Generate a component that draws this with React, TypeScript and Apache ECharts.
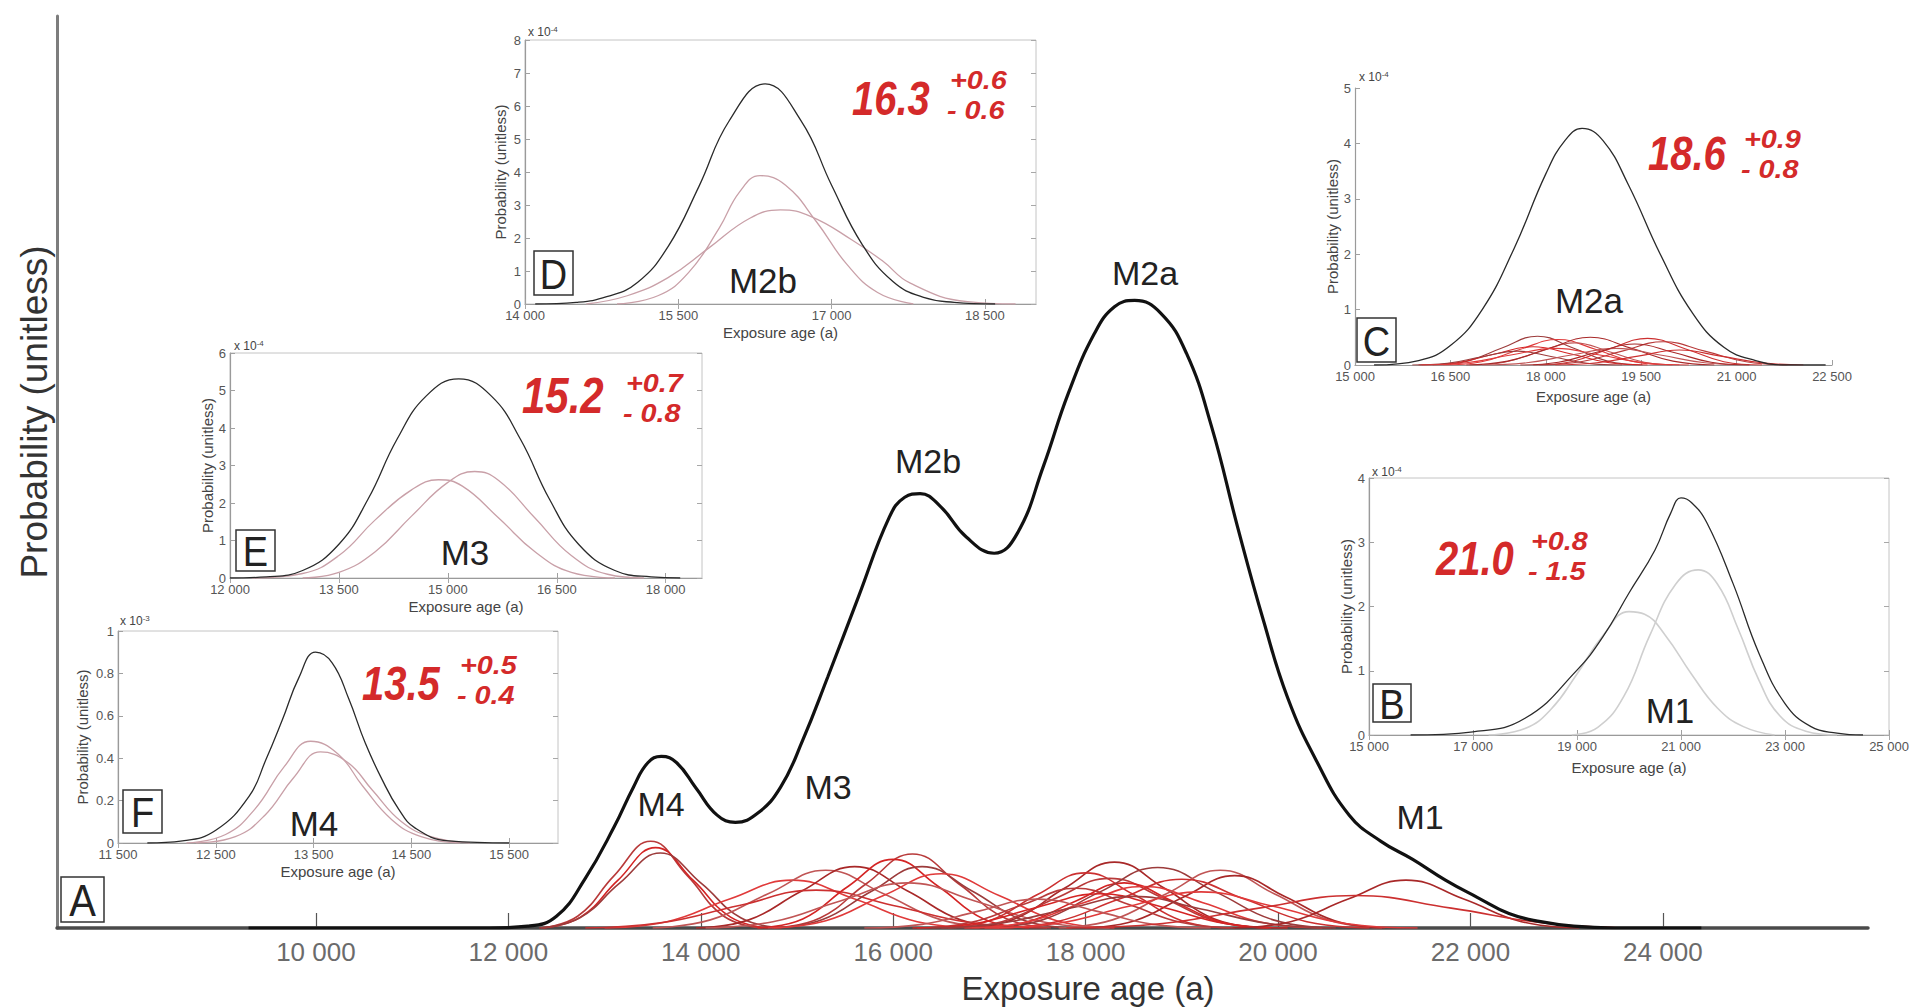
import React, { useEffect, useRef } from "react";
import * as echarts from "echarts";

const FONT = "Liberation Sans, Arial, Helvetica, sans-serif";

// ---------- Main panel (A) ----------
const MAIN_X_TICKS = [10000, 12000, 14000, 16000, 18000, 20000, 22000, 24000];
const MAIN_SUM = [
  [9300, 0], [11800, 0], [12200, 0.002], [12500, 0.013], [12800, 0.055], [13100, 0.112], [13300, 0.156],
  [13450, 0.183], [13590, 0.19], [13750, 0.183], [13950, 0.155], [14170, 0.125], [14360, 0.117],
  [14590, 0.127], [14830, 0.156], [15060, 0.208], [15320, 0.278], [15640, 0.367], [15960, 0.455],
  [16120, 0.477], [16280, 0.481], [16490, 0.467], [16760, 0.433], [17050, 0.415], [17290, 0.437],
  [17560, 0.511], [17820, 0.592], [18090, 0.658], [18300, 0.688], [18510, 0.695], [18780, 0.681],
  [19050, 0.636], [19310, 0.555], [19580, 0.444], [19850, 0.34], [20100, 0.255], [20400, 0.185],
  [20740, 0.125], [21070, 0.096], [21400, 0.076], [21740, 0.053], [22070, 0.034], [22400, 0.016],
  [22730, 0.007], [23070, 0.002], [23500, 0], [24400, 0],
];
const MAIN_AGES = [
  [[12340, 0], [12720, 0.013], [13100, 0.058], [13480, 0.096], [13860, 0.058], [14240, 0.013], [14620, 0]],
  [[12360, 0], [12750, 0.012], [13140, 0.053], [13530, 0.089], [13920, 0.053], [14310, 0.012], [14700, 0]],
  [[12320, 0], [12740, 0.011], [13160, 0.05], [13580, 0.083], [14000, 0.05], [14420, 0.011], [14840, 0]],
  [[13000, 0], [13650, 0.007], [14300, 0.032], [14950, 0.053], [15600, 0.032], [16250, 0.007], [16900, 0]],
  [[13500, 0], [14100, 0.009], [14700, 0.038], [15300, 0.064], [15900, 0.038], [16500, 0.009], [17100, 0]],
  [[13950, 0], [14500, 0.009], [15050, 0.041], [15600, 0.068], [16150, 0.041], [16700, 0.009], [17250, 0]],
  [[12800, 0], [13600, 0.006], [14400, 0.025], [15200, 0.042], [16000, 0.025], [16800, 0.006], [17600, 0]],
  [[14760, 0], [15240, 0.011], [15720, 0.049], [16200, 0.082], [16680, 0.049], [17160, 0.011], [17640, 0]],
  [[14590, 0], [15060, 0.01], [15530, 0.046], [16000, 0.076], [16470, 0.046], [16940, 0.01], [17410, 0]],
  [[14740, 0], [15260, 0.009], [15780, 0.041], [16300, 0.068], [16820, 0.041], [17340, 0.009], [17860, 0]],
  [[14700, 0], [15300, 0.008], [15900, 0.036], [16500, 0.06], [17100, 0.036], [17700, 0.008], [18300, 0]],
  [[14050, 0], [14750, 0.007], [15450, 0.03], [16150, 0.05], [16850, 0.03], [17550, 0.007], [18250, 0]],
  [[16740, 0], [17260, 0.01], [17780, 0.044], [18300, 0.073], [18820, 0.044], [19340, 0.01], [19860, 0]],
  [[16500, 0], [17000, 0.008], [17500, 0.037], [18000, 0.061], [18500, 0.037], [19000, 0.008], [19500, 0]],
  [[16570, 0], [17130, 0.007], [17690, 0.033], [18250, 0.055], [18810, 0.033], [19370, 0.007], [19930, 0]],
  [[16900, 0], [17400, 0.007], [17900, 0.03], [18400, 0.05], [18900, 0.03], [19400, 0.007], [19900, 0]],
  [[16950, 0], [17550, 0.009], [18150, 0.04], [18750, 0.067], [19350, 0.04], [19950, 0.009], [20550, 0]],
  [[16740, 0], [17360, 0.006], [17980, 0.028], [18600, 0.046], [19220, 0.028], [19840, 0.006], [20460, 0]],
  [[17720, 0], [18280, 0.009], [18840, 0.038], [19400, 0.064], [19960, 0.038], [20520, 0.009], [21080, 0]],
  [[17990, 0], [18510, 0.008], [19030, 0.035], [19550, 0.058], [20070, 0.035], [20590, 0.008], [21110, 0]],
  [[17050, 0], [17700, 0.007], [18350, 0.032], [19000, 0.054], [19650, 0.032], [20300, 0.007], [20950, 0]],
  [[16250, 0], [16800, 0.006], [17350, 0.026], [17900, 0.044], [18450, 0.026], [19000, 0.006], [19550, 0]],
  [[16200, 0], [16850, 0.005], [17500, 0.023], [18150, 0.038], [18800, 0.023], [19450, 0.005], [20100, 0]],
  [[16400, 0], [17100, 0.005], [17800, 0.021], [18500, 0.035], [19200, 0.021], [19900, 0.005], [20600, 0]],
  [[16950, 0], [17700, 0.005], [18450, 0.024], [19200, 0.04], [19950, 0.024], [20700, 0.005], [21450, 0]],
  [[15700, 0], [16300, 0.004], [16900, 0.019], [17500, 0.032], [18100, 0.019], [18700, 0.004], [19300, 0]],
  [[19530, 0], [20130, 0.007], [20730, 0.032], [21330, 0.053], [21930, 0.032], [22530, 0.007], [23130, 0]],
  [[17800, 0], [18800, 0.005], [19800, 0.022], [20800, 0.036], [21800, 0.022], [22800, 0.005], [23800, 0]],
];
const RED_SHADES = ["#b83a3a", "#d42424", "#9c3b3b", "#e03a3a", "#c05555", "#a82828", "#cc3030"];

// ---------- Inset F (M4) ----------
const F_X_TICKS = [11500, 12500, 13500, 14500, 15500];
const F_Y_TICKS = [0, 0.2, 0.4, 0.6, 0.8, 1];
const F_SUM = [
  [11800, 0], [12160, 0.01], [12500, 0.06], [12840, 0.22], [13010, 0.39], [13180, 0.58], [13350, 0.78],
  [13520, 0.9], [13690, 0.85], [13860, 0.68], [14030, 0.47], [14200, 0.3], [14370, 0.16], [14540, 0.07],
  [14880, 0.01], [15500, 0],
];
const F_PARTS = [
  [[12200, 0], [12600, 0.04], [12900, 0.16], [13200, 0.36], [13470, 0.48], [13750, 0.42], [14000, 0.27], [14300, 0.11], [14600, 0.03], [15000, 0]],
  [[12300, 0], [12700, 0.03], [13000, 0.13], [13300, 0.31], [13570, 0.43], [13850, 0.38], [14100, 0.25], [14400, 0.1], [14700, 0.03], [15100, 0]],
];

// ---------- Inset E (M3) ----------
const E_X_TICKS = [12000, 13500, 15000, 16500, 18000];
const E_Y_TICKS = [0, 1, 2, 3, 4, 5, 6];
const E_SUM = [
  [12000, 0], [12500, 0.03], [13000, 0.2], [13500, 0.9], [13900, 2.1], [14300, 3.7], [14700, 4.85],
  [15150, 5.31], [15600, 4.85], [16000, 3.7], [16400, 2.1], [16800, 0.9], [17300, 0.2], [17800, 0.03], [18200, 0],
];
const E_PARTS = [
  [[12300, 0], [13000, 0.12], [13500, 0.6], [14000, 1.55], [14500, 2.35], [14870, 2.62], [15200, 2.45], [15700, 1.6], [16200, 0.7], [16700, 0.15], [17300, 0]],
  [[13000, 0], [13500, 0.15], [14000, 0.7], [14500, 1.65], [15000, 2.55], [15370, 2.84], [15700, 2.6], [16200, 1.6], [16700, 0.6], [17200, 0.1], [17700, 0]],
];

// ---------- Inset D (M2b) ----------
const D_X_TICKS = [14000, 15500, 17000, 18500];
const D_Y_TICKS = [0, 1, 2, 3, 4, 5, 6, 7, 8];
const D_SUM = [
  [14100, 0], [14500, 0.05], [14800, 0.22], [15100, 0.65], [15400, 1.74], [15700, 3.55], [16000, 5.56],
  [16350, 6.67], [16700, 5.56], [17000, 3.6], [17300, 1.8], [17600, 0.68], [17900, 0.2], [18200, 0.05], [18600, 0],
];
const D_PARTS = [
  [[14900, 0], [15300, 0.25], [15600, 0.95], [15900, 2.3], [16100, 3.4], [16300, 3.89], [16550, 3.6], [16850, 2.5], [17150, 1.2], [17450, 0.35], [17800, 0]],
  [[14600, 0], [15000, 0.25], [15400, 0.8], [15800, 1.7], [16200, 2.6], [16500, 2.85], [16800, 2.65], [17200, 1.94], [17500, 1.3], [17770, 0.63], [18330, 0.07], [18800, 0]],
];

// ---------- Inset C (M2a) ----------
const C_X_TICKS = [15000, 16500, 18000, 19500, 21000, 22500];
const C_Y_TICKS = [0, 1, 2, 3, 4, 5];
const C_SUM = [
  [15300, 0], [16000, 0.08], [16500, 0.35], [17000, 1.0], [17500, 2.1], [18000, 3.45], [18300, 4.05],
  [18570, 4.27], [18900, 4.05], [19300, 3.25], [19800, 2.0], [20300, 0.95], [20800, 0.32], [21300, 0.08],
  [21800, 0], [22400, 0],
];
const C_PARTS = [
  [[16220, 0], [16770, 0.07], [17320, 0.31], [17870, 0.52], [18420, 0.31], [18970, 0.07], [19520, 0]],
  [[16390, 0], [16990, 0.06], [17590, 0.28], [18190, 0.46], [18790, 0.28], [19390, 0.06], [19990, 0]],
  [[16800, 0], [17350, 0.05], [17900, 0.24], [18450, 0.4], [19000, 0.24], [19550, 0.05], [20100, 0]],
  [[16750, 0], [17400, 0.07], [18050, 0.3], [18700, 0.5], [19350, 0.3], [20000, 0.07], [20650, 0]],
  [[17800, 0], [18400, 0.06], [19000, 0.29], [19600, 0.48], [20200, 0.29], [20800, 0.06], [21400, 0]],
  [[17900, 0], [18550, 0.06], [19200, 0.25], [19850, 0.42], [20500, 0.25], [21150, 0.06], [21800, 0]],
  [[16000, 0], [16600, 0.04], [17200, 0.2], [17800, 0.33], [18400, 0.2], [19000, 0.04], [19600, 0]],
  [[15900, 0], [16450, 0.03], [17000, 0.15], [17550, 0.25], [18100, 0.15], [18650, 0.03], [19200, 0]],
  [[16050, 0], [16750, 0.04], [17450, 0.18], [18150, 0.3], [18850, 0.18], [19550, 0.04], [20250, 0]],
  [[17000, 0], [17700, 0.04], [18400, 0.18], [19100, 0.3], [19800, 0.18], [20500, 0.04], [21200, 0]],
  [[17600, 0], [18200, 0.05], [18800, 0.23], [19400, 0.38], [20000, 0.23], [20600, 0.05], [21200, 0]],
  [[18150, 0], [18800, 0.04], [19450, 0.16], [20100, 0.27], [20750, 0.16], [21400, 0.04], [22050, 0]],
];

// ---------- Inset B (M1) ----------
const B_X_TICKS = [15000, 17000, 19000, 21000, 23000, 25000];
const B_Y_TICKS = [0, 1, 2, 3, 4];
const B_SUM = [
  [15800, 0], [17000, 0.05], [18000, 0.26], [19000, 1.01], [19500, 1.53], [20000, 2.21], [20500, 2.88],
  [20800, 3.45], [21000, 3.69], [21200, 3.62], [21500, 3.3], [22000, 2.36], [22500, 1.27], [23000, 0.49],
  [23500, 0.13], [24000, 0.03], [24500, 0],
];
const B_PARTS = [
  [[17300, 0], [18000, 0.1], [18500, 0.4], [19000, 0.95], [19500, 1.55], [20000, 1.92], [20300, 1.88], [20700, 1.55], [21200, 0.95], [21700, 0.42], [22200, 0.13], [22800, 0]],
  [[18900, 0], [19400, 0.12], [19900, 0.6], [20400, 1.55], [20900, 2.35], [21330, 2.57], [21700, 2.35], [22100, 1.65], [22500, 0.85], [22900, 0.3], [23400, 0.06], [24000, 0]],
];

const thousands = (v: number) => String(Math.round(v)).replace(/\B(?=(\d{3})+(?!\d))/g, " ");
const yFmt = (v: number) => String(Math.round(v * 10) / 10);

function lineSeries(data: number[][], xi: number, yi: number, color: string, width: number, z = 3) {
  return {
    type: "line",
    data,
    xAxisIndex: xi,
    yAxisIndex: yi,
    showSymbol: false,
    symbol: "none",
    smooth: 0.45,
    lineStyle: { color, width },
    z,
    silent: true,
  };
}

export default function App() {
  const ref = useRef<HTMLDivElement>(null);

  useEffect(() => {
    if (!ref.current) return;
    const chart = echarts.init(ref.current, null, { renderer: "svg" });

    const grids: any[] = [
      { left: 57, top: 16, width: 1811, height: 912, show: false },
      { left: 118, top: 631, width: 440, height: 212, show: true, backgroundColor: "#fff", borderColor: "#c4c4c4", borderWidth: 1 },
      { left: 230, top: 353, width: 472, height: 225, show: true, backgroundColor: "#fff", borderColor: "#c4c4c4", borderWidth: 1 },
      { left: 525, top: 40, width: 511, height: 264, show: true, backgroundColor: "#fff", borderColor: "#c4c4c4", borderWidth: 1 },
      { left: 1355, top: 88, width: 477, height: 277, show: true, backgroundColor: "#fff", borderWidth: 0 },
      { left: 1369, top: 478, width: 520, height: 257, show: true, backgroundColor: "#fff", borderColor: "#c4c4c4", borderWidth: 1 },
    ].map((g) => ({ ...g, containLabel: false, outerBoundsMode: "none" }));

    const xAxes: any[] = [];
    const yAxes: any[] = [];

    // main axes
    xAxes.push({
      type: "value", gridIndex: 0, min: 7309, max: 26132, position: "bottom",
      axisLine: { show: true, onZero: false, lineStyle: { color: "#4a4a4a", width: 3.5 } },
      axisTick: { show: true, inside: true, length: 15, customValues: MAIN_X_TICKS, lineStyle: { color: "#555", width: 1.2 } },
      axisLabel: { customValues: MAIN_X_TICKS, formatter: thousands, fontSize: 26, color: "#6b6b6b", margin: 11, fontFamily: FONT },
      splitLine: { show: false },
    });
    yAxes.push({
      type: "value", gridIndex: 0, min: 0, max: 1.01,
      axisLine: { show: true, onZero: false, lineStyle: { color: "#7d7d7d", width: 3 } },
      axisTick: { show: false }, axisLabel: { show: false }, splitLine: { show: false },
    });

    const insetIdx: { x: number; y: number }[] = [];
    function addInset(gi: number, xmin: number, xmax: number, xt: number[], ymax: number, yt: number[], boxed: boolean, xGap: number, yGap: number) {
      const xi = xAxes.length;
      const yi = yAxes.length;
      insetIdx.push({ x: xi, y: yi });
      xAxes.push({
        type: "value", gridIndex: gi, min: xmin, max: xmax, position: "bottom",
        axisLine: { show: true, onZero: false, lineStyle: { color: "#9a9a9a", width: 1.2 } },
        axisTick: { show: true, inside: true, length: 5, customValues: xt, lineStyle: { color: "#a0a0a0" } },
        axisLabel: { customValues: xt, formatter: thousands, fontSize: 13, color: "#555", margin: 5, fontFamily: FONT },
        splitLine: { show: false },
        name: "Exposure age (a)", nameLocation: "middle", nameGap: xGap,
        nameTextStyle: { fontSize: 15, color: "#444", fontFamily: FONT },
      });
      yAxes.push({
        type: "value", gridIndex: gi, min: 0, max: ymax, position: "left",
        axisLine: { show: true, onZero: false, lineStyle: { color: "#9a9a9a", width: 1.2 } },
        axisTick: { show: true, inside: true, length: 5, customValues: yt, lineStyle: { color: "#a0a0a0" } },
        axisLabel: { customValues: yt, formatter: yFmt, fontSize: 13, color: "#555", margin: 4, fontFamily: FONT },
        splitLine: { show: false },
        name: "Probability (unitless)", nameLocation: "middle", nameGap: yGap, nameRotate: 90,
        nameTextStyle: { fontSize: 15, color: "#444", fontFamily: FONT },
      });
      if (boxed) {
        xAxes.push({
          type: "value", gridIndex: gi, min: xmin, max: xmax, position: "top",
          axisLine: { show: false }, axisLabel: { show: false }, splitLine: { show: false },
          axisTick: { show: true, inside: true, length: 5, customValues: xt, lineStyle: { color: "#a8a8a8" } },
        });
        yAxes.push({
          type: "value", gridIndex: gi, min: 0, max: ymax, position: "right",
          axisLine: { show: false }, axisLabel: { show: false }, splitLine: { show: false },
          axisTick: { show: true, inside: true, length: 5, customValues: yt, lineStyle: { color: "#a8a8a8" } },
        });
      }
    }
    addInset(1, 11500, 16000, F_X_TICKS, 1, F_Y_TICKS, true, 21, 28);
    addInset(2, 12000, 18500, E_X_TICKS, 6, E_Y_TICKS, true, 21, 15);
    addInset(3, 14000, 19000, D_X_TICKS, 8, D_Y_TICKS, true, 21, 17);
    addInset(4, 15000, 22500, C_X_TICKS, 5, C_Y_TICKS, false, 24, 14);
    addInset(5, 15000, 25000, B_X_TICKS, 4, B_Y_TICKS, true, 25, 14);

    const series: any[] = [];
    MAIN_AGES.forEach((c, i) => series.push(lineSeries(c, 0, 0, RED_SHADES[i % RED_SHADES.length], 1.6, 3)));
    series.push(lineSeries(MAIN_SUM, 0, 0, "#111", 3.2, 5));

    const PINK = "#c9a0a8";
    const [iF, iE, iD, iC, iB] = insetIdx;
    F_PARTS.forEach((c) => series.push(lineSeries(c, iF.x, iF.y, PINK, 1.3, 3)));
    series.push(lineSeries(F_SUM, iF.x, iF.y, "#2a2a2a", 1.3, 4));
    E_PARTS.forEach((c) => series.push(lineSeries(c, iE.x, iE.y, PINK, 1.3, 3)));
    series.push(lineSeries(E_SUM, iE.x, iE.y, "#2a2a2a", 1.3, 4));
    D_PARTS.forEach((c) => series.push(lineSeries(c, iD.x, iD.y, PINK, 1.3, 3)));
    series.push(lineSeries(D_SUM, iD.x, iD.y, "#2a2a2a", 1.3, 4));
    C_PARTS.forEach((c, i) => series.push(lineSeries(c, iC.x, iC.y, RED_SHADES[(i + 2) % RED_SHADES.length], 1.1, 3)));
    series.push(lineSeries(C_SUM, iC.x, iC.y, "#2a2a2a", 1.3, 4));
    B_PARTS.forEach((c) => series.push(lineSeries(c, iB.x, iB.y, "#cfcfcf", 1.6, 3)));
    series.push(lineSeries(B_SUM, iB.x, iB.y, "#2a2a2a", 1.3, 4));

    const text = (x: number, y: number, t: string, o: any = {}) => ({
      type: "text", x, y, z: 100, scaleX: o.sx ?? 1, scaleY: o.sy ?? 1, rotation: o.rot ?? 0,
      style: {
        text: t, fontSize: o.fs ?? 35, fontFamily: FONT, fontWeight: o.fw ?? "normal",
        fontStyle: o.it ? "italic" : "normal", fill: o.color ?? "#222",
        align: o.align ?? "center", verticalAlign: "middle",
        textAlign: o.align ?? "center", textVerticalAlign: "middle",
      },
    });
    const RED = "#d42a2a";
    // main value plus "+err" above "- err" next to it
    const numGroup = (x: number, yc: number, main: string, up: string, dn: string, sx: number, ys: number, fs = 40) => [
      text(x, yc, main, { fs, fw: "bold", it: true, color: RED, align: "left", sy: 1.2 }),
      text(sx, ys - 15, up, { fs: 24, fw: "bold", it: true, color: RED, align: "left", sx: 1.2, sy: 1.05 }),
      text(sx - 3, ys + 15, dn, { fs: 24, fw: "bold", it: true, color: RED, align: "left", sx: 1.2, sy: 1.05 }),
    ];
    const boxed = (x: number, y: number, w: number, h: number, t: string, fs: number) => [
      { type: "rect", z: 99, shape: { x, y, width: w, height: h }, style: { fill: "#fff", stroke: "#333", lineWidth: 1.5 } },
      text(x + w / 2, y + h / 2 + 1, t, { fs, sy: 1.12 }),
    ];
    const expo = (x: number, y: number, e: string) => ({
      type: "text", x, y, z: 100,
      style: {
        text: "{a|x 10}{b|" + e + "}",
        align: "left", verticalAlign: "middle", textAlign: "left", textVerticalAlign: "middle",
        rich: {
          a: { fontSize: 12, fill: "#444", color: "#444", fontFamily: FONT },
          b: { fontSize: 8, fill: "#444", color: "#444", fontFamily: FONT, verticalAlign: "top", padding: [0, 0, 6, 0] },
        },
      },
    });

    const graphics: any[] = [
      text(34, 412, "Probability (unitless)", { fs: 37, rot: Math.PI / 2, color: "#333" }),
      text(1088, 988, "Exposure age (a)", { fs: 33, color: "#333" }),
      text(661, 804, "M4", { fs: 34 }),
      text(828, 787, "M3", { fs: 34 }),
      text(928, 461, "M2b", { fs: 34 }),
      text(1145, 273, "M2a", { fs: 34 }),
      text(1420, 817, "M1", { fs: 34 }),
      text(314, 823, "M4", { fs: 35 }),
      text(465, 552, "M3", { fs: 35 }),
      text(763, 280, "M2b", { fs: 35 }),
      text(1589, 300, "M2a", { fs: 35 }),
      text(1670, 710, "M1", { fs: 35 }),
      ...boxed(61, 877, 43, 45, "A", 40),
      ...boxed(123, 790, 39, 43, "F", 38),
      ...boxed(236, 530, 39, 41, "E", 38),
      ...boxed(534, 251, 39, 44, "D", 38),
      ...boxed(1357, 318, 39, 44, "C", 38),
      ...boxed(1373, 684, 38, 38, "B", 38),
      ...numGroup(362, 683, "13.5", "+0.5", "- 0.4", 460, 681),
      ...numGroup(522, 396, "15.2", "+0.7", "- 0.8", 626, 399, 42),
      ...numGroup(852, 98, "16.3", "+0.6", "- 0.6", 950, 96),
      ...numGroup(1648, 153, "18.6", "+0.9", "- 0.8", 1744, 155),
      ...numGroup(1436, 558, "21.0", "+0.8", "- 1.5", 1531, 557),
      expo(120, 621, "-3"),
      expo(234, 346, "-4"),
      expo(528, 32, "-4"),
      expo(1359, 77, "-4"),
      expo(1372, 472, "-4"),
    ];

    chart.setOption({
      animation: false,
      backgroundColor: "#fff",
      textStyle: { fontFamily: FONT },
      grid: grids,
      xAxis: xAxes,
      yAxis: yAxes,
      series,
      graphic: { elements: graphics },
    });
    return () => chart.dispose();
  }, []);

  return (
    <div
      ref={ref}
      style={{ position: "fixed", left: 0, top: 0, width: 1927, height: 1007, background: "#fff" }}
    />
  );
}
